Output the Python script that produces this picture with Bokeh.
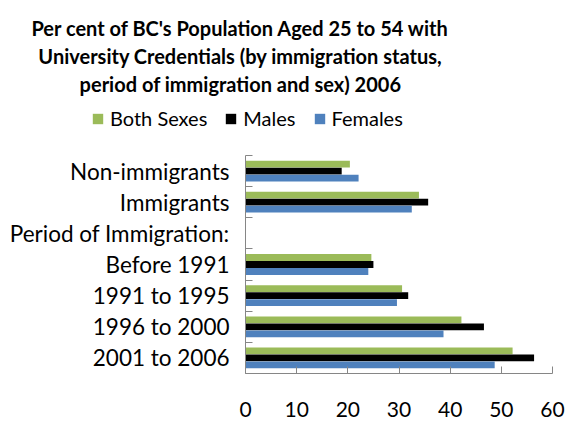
from bokeh.plotting import figure
from bokeh.layouts import column
from bokeh.models import Range1d, FixedTicker, Label, Legend, LegendItem, ColumnDataSource
from bokeh.embed import file_html
from bokeh.resources import INLINE

categories = ["Non-immigrants", "Immigrants", "Period of Immigration:", "Before 1991",
              "1991 to 1995", "1996 to 2000", "2001 to 2006"]
both_sexes = [20.4, 33.9, None, 24.6, 30.6, 42.2, 52.2]
males = [18.8, 35.7, None, 25.0, 31.8, 46.6, 56.4]
females = [22.1, 32.5, None, 24.0, 29.6, 38.7, 48.7]
x_ticks = [0, 10, 20, 30, 40, 50, 60]
series_names = ["Both Sexes", "Males", "Females"]
title_lines = ["Per cent of BC's Population Aged 25 to 54 with",
               "University Credentials (by immigration status,",
               "period of immigration and sex) 2006"]

FONT = "Lato"
colors = ["#9BBB59", "#000000", "#4F81BD"]
series = [both_sexes, males, females]
n = len(categories)
centers = [n - i - 0.5 for i in range(n)]
bar_h = 0.225
offsets = [bar_h, 0.0, -bar_h]

W = 565
HEAD_H = 140
MAIN_H = 423 - HEAD_H


def series_source(vals, off):
    ys = [c + off for c, v in zip(centers, vals) if v is not None]
    xs = [v for v in vals if v is not None]
    return ColumnDataSource(dict(y=ys, right=xs))


# ---------- header: title + legend ----------
head = figure(width=W, height=HEAD_H, output_backend="svg", toolbar_location=None,
              x_range=Range1d(0, W), y_range=Range1d(0, HEAD_H),
              x_axis_type=None, y_axis_type=None,
              min_border=0, min_border_left=0, min_border_right=0,
              min_border_top=0, min_border_bottom=0)
head.frame_align = False
head.outline_line_color = None
head.xgrid.visible = False
head.ygrid.visible = False
head.border_fill_color = "white"
head.background_fill_color = "white"

for i, line in enumerate(title_lines):
    head.add_layout(Label(x=240, y=HEAD_H - 27.5 - i * 28, x_units="screen", y_units="screen",
                          text=line, text_align="center", text_baseline="alphabetic",
                          text_font=FONT, text_font_style="bold", text_font_size="20px",
                          text_color="black"))

# legend proxies: same series, zero-height bars (invisible), used only for the key
proxies = []
for vals, col, off in zip(series, colors, offsets):
    proxies.append(head.hbar(y="y", right="right", left=0, height=0,
                             source=series_source(vals, off),
                             fill_color=col, line_color=None))

legend = Legend(items=[LegendItem(label=nm, renderers=[r]) for nm, r in zip(series_names, proxies)],
                orientation="horizontal", location=(91, 10),
                label_text_font=FONT, label_text_font_size="20px", label_text_color="black",
                glyph_width=13, glyph_height=13, spacing=17, padding=0, margin=0,
                label_standoff=6, background_fill_alpha=0, border_line_color=None)
head.add_layout(legend, "center")

# ---------- main chart ----------
p = figure(width=W, height=MAIN_H, output_backend="svg", toolbar_location=None,
           x_range=Range1d(0, 60), y_range=Range1d(0, n),
           min_border_left=245, min_border_right=13, min_border_top=155 - HEAD_H,
           min_border_bottom=50)
p.frame_align = False
p.outline_line_color = None
p.xgrid.visible = False
p.ygrid.visible = False
p.background_fill_color = None
p.border_fill_color = "white"

for vals, col, off in zip(series, colors, offsets):
    p.hbar(y="y", right="right", left=0, height=bar_h * 0.97, source=series_source(vals, off),
           fill_color=col, line_color=None)

# y axis: labels at category centres, tick marks at category boundaries
p.yaxis.ticker = FixedTicker(ticks=centers, minor_ticks=[float(i) for i in range(n + 1)])
p.yaxis.major_label_overrides = {c: lab for c, lab in zip(centers, categories)}
p.yaxis.major_tick_in = 0
p.yaxis.major_tick_out = 0
p.yaxis.minor_tick_in = 7
p.yaxis.minor_tick_out = 0
p.yaxis.axis_line_color = "#868686"
p.yaxis.minor_tick_line_color = "#868686"
p.yaxis.major_label_text_font = FONT
p.yaxis.major_label_text_font_size = "22.5px"
p.yaxis.major_label_text_color = "black"
p.yaxis.major_label_standoff = 16

# x axis
p.xaxis.ticker = FixedTicker(ticks=x_ticks)
p.xaxis.major_tick_in = 7
p.xaxis.major_tick_out = 0
p.xaxis.minor_tick_line_color = None
p.xaxis.axis_line_color = "#868686"
p.xaxis.major_tick_line_color = "#868686"
p.xaxis.major_label_text_font = FONT
p.xaxis.major_label_text_font_size = "21px"
p.xaxis.major_label_text_color = "black"
p.xaxis.major_label_standoff = 28

layout = column(head, p, spacing=0)
open("out.html", "w").write(file_html(layout, INLINE))
